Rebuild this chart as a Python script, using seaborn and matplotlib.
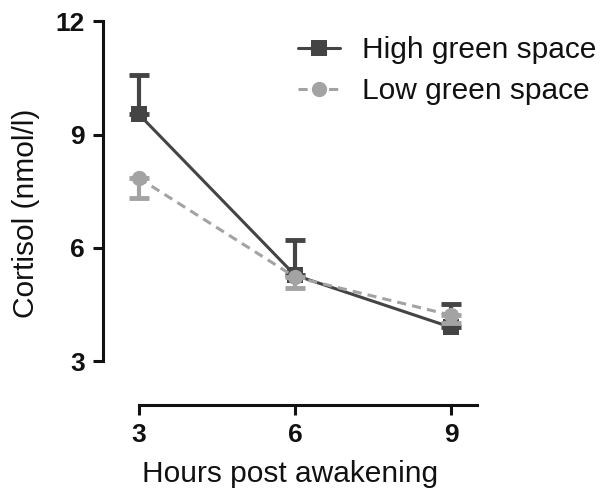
import numpy as np
import pandas as pd
import seaborn as sns
from matplotlib import pyplot as plt

hours = [3, 6, 9]
high_mean = [9.54, 5.28, 3.90]
high_err = [1.03, 0.93, 0.62]   # one-sided, drawn upward
low_mean = [7.85, 5.23, 4.22]
low_err = [0.53, 0.29, 0.21]    # one-sided, drawn downward
groups = ['High green space', 'Low green space']

dark = '#444444'
light = '#a3a3a3'

sns.set_style('ticks')
plt.rcParams['font.family'] = ['Liberation Sans', 'DejaVu Sans']
plt.rcParams['text.color'] = '#111111'
plt.rcParams['axes.labelcolor'] = '#111111'
plt.rcParams['xtick.color'] = '#111111'
plt.rcParams['ytick.color'] = '#111111'

df = pd.DataFrame({
    'hours': hours * 2,
    'cortisol': high_mean + low_mean,
    'group': [groups[0]] * 3 + [groups[1]] * 3,
})

fig = plt.figure(figsize=(6.08, 4.9), dpi=100)
ax = fig.add_axes([0.169, 0.173, 0.616, 0.784])

sns.lineplot(data=df, x='hours', y='cortisol', hue='group', style='group',
             palette=[dark, light], markers=['s', 'o'], dashes=[(None, None), (3, 2)],
             markersize=11, linewidth=2.2, markeredgewidth=0, ax=ax, legend=True,
             clip_on=False)

# one-sided error bars
ax.errorbar(hours, high_mean, yerr=[np.zeros(3), high_err], fmt='none', ecolor=dark,
            elinewidth=3, capsize=7, capthick=3.5, zorder=1, clip_on=False)
ax.errorbar(hours, low_mean, yerr=[low_err, np.zeros(3)], fmt='none', ecolor=light,
            elinewidth=3, capsize=7, capthick=3.5, zorder=3, clip_on=False)

ax.set_xlim(2.31, 9.5)
ax.set_ylim(1.84, 12)
ax.set_xticks([3, 6, 9])
ax.set_yticks([3, 6, 9, 12])
ax.spines['left'].set_bounds(3, 12)
ax.spines['bottom'].set_bounds(3, 9.5)
for s in ['left', 'bottom']:
    ax.spines[s].set_linewidth(2.2)
    ax.spines[s].set_color('#111111')
sns.despine(ax=ax)
ax.tick_params(width=2.2, length=7, labelsize=19, pad=6)
for lab in ax.get_xticklabels() + ax.get_yticklabels():
    lab.set_fontweight('bold')

ax.set_xlabel('Hours post awakening', fontsize=21.5, labelpad=9)
ax.set_ylabel('Cortisol (nmol/l)', fontsize=21.5, labelpad=11)

handles, labels = ax.get_legend_handles_labels()
ax.legend(handles, labels, loc='upper left', bbox_to_anchor=(298 / 608, 1 - 36 / 490),
          bbox_transform=fig.transFigure, frameon=False, fontsize=21.5,
          handlelength=1.4, handletextpad=0.75, labelspacing=0.45, borderaxespad=0,
          borderpad=0)

fig.savefig('out.png', dpi=100)
